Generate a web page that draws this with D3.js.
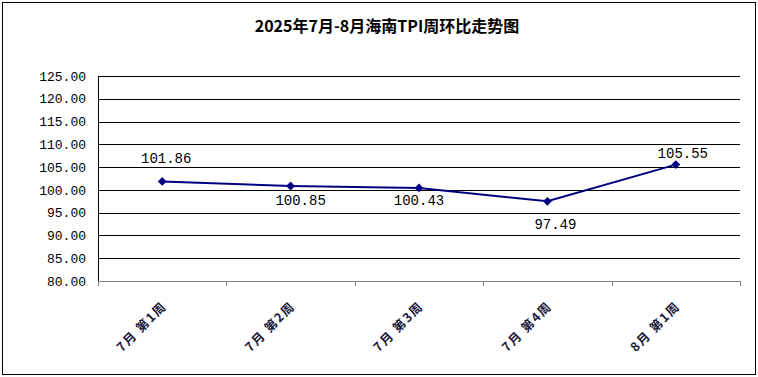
<!DOCTYPE html>
<html>
<head>
<meta charset="utf-8">
<script src="https://cdn.jsdelivr.net/npm/d3@7"></script>
<style>
  body { margin: 0; background: #fff; }
  svg { display: block; }
</style>
</head>
<body>
<div id="chart"></div>
<script>
// Chart data
const categories = ["7月 第1周", "7月 第2周", "7月 第3周", "7月 第4周", "8月 第1周"];
const values = [101.86, 100.85, 100.43, 97.49, 105.55];
const yTicks = [80, 85, 90, 95, 100, 105, 110, 115, 120, 125];
const title = "2025年7月-8月海南TPI周环比走势图";

// data label placement (offsets from each marker, in px)
const labelDx = [4, 10, 0, 8, 7];
const labelDy = [-18, 19, 17, 28, -7];

const W = 758, H = 377;
const margin = { top: 76, right: 18, bottom: 96, left: 98 };
const width = W - margin.left - margin.right;
const height = H - margin.top - margin.bottom;

const svgRoot = d3.select("#chart").append("svg")
  .attr("width", W).attr("height", H);

// outer border
svgRoot.append("rect")
  .attr("x", 2.5).attr("y", 2.5)
  .attr("width", W - 5).attr("height", H - 5)
  .attr("fill", "#fff").attr("stroke", "#000");

// title
svgRoot.append("text")
  .attr("x", 387).attr("y", 32)
  .attr("text-anchor", "middle")
  .style("font-family", "'Noto Sans CJK SC', sans-serif")
  .style("font-size", "16px")
  .style("font-weight", "bold")
  .text(title);

const svg = svgRoot.append("g")
  .attr("transform", `translate(${margin.left},${margin.top})`);

const x = d3.scaleBand().domain(categories).range([0, width]);
const y = d3.scaleLinear().domain([80, 125]).range([height, 0]);

// gridlines
svg.append("g")
  .selectAll("line")
  .data(yTicks.filter((d) => d > 80))
  .join("line")
  .attr("x1", 0).attr("x2", width)
  .attr("y1", (d) => Math.round(y(d)) + 0.5)
  .attr("y2", (d) => Math.round(y(d)) + 0.5)
  .attr("stroke", "#000");

// y axis
const yAxis = svg.append("g")
  .call(d3.axisLeft(y).tickValues(yTicks).tickSize(0).tickPadding(12).tickFormat(d3.format(".2f")));
yAxis.select(".domain").attr("stroke", "#000");
yAxis.selectAll("text")
  .style("font-family", "'Liberation Mono', monospace")
  .style("font-size", "13px")
  .attr("fill", "#000");

// x axis
const xAxis = svg.append("g")
  .attr("transform", `translate(0,${height})`)
  .call(d3.axisBottom(x).tickSize(0).tickFormat(""));
xAxis.select(".domain").attr("stroke", "#808080");
svg.append("g")
  .selectAll("line")
  .data(d3.range(categories.length + 1))
  .join("line")
  .attr("x1", (i) => Math.round(i * x.step()) + 0.5)
  .attr("x2", (i) => Math.round(i * x.step()) + 0.5)
  .attr("y1", height).attr("y2", height + 5)
  .attr("stroke", "#808080");

// rotated category labels
svg.append("g")
  .selectAll("text")
  .data(categories)
  .join("text")
  .attr("transform", (d) => `translate(${x(d) + x.bandwidth() / 2 - 1},${height + 20}) rotate(-45)`)
  .attr("text-anchor", "end")
  .attr("dy", "0.7em")
  .style("font-family", "'Noto Sans CJK SC', sans-serif")
  .style("font-size", "12.5px")
  .style("font-weight", "bold")
  .style("letter-spacing", "1.5px")
  .attr("fill", "#1a1a3a")
  .text((d) => d);

// line
const cx = (i) => x(categories[i]) + x.bandwidth() / 2;
const line = d3.line().x((d, i) => cx(i)).y((d) => y(d));
svg.append("path")
  .datum(values)
  .attr("fill", "none")
  .attr("stroke", "#000080")
  .attr("stroke-width", 2)
  .attr("d", line);

// diamond markers
svg.append("g")
  .selectAll("path")
  .data(values)
  .join("path")
  .attr("transform", (d, i) => `translate(${cx(i)},${y(d)})`)
  .attr("d", d3.symbol().type(d3.symbolDiamond2).size(50))
  .attr("fill", "#000080");

// data labels
svg.append("g")
  .selectAll("text")
  .data(values)
  .join("text")
  .attr("x", (d, i) => cx(i) + labelDx[i])
  .attr("y", (d, i) => y(d) + labelDy[i])
  .attr("text-anchor", "middle")
  .style("font-family", "'Liberation Mono', monospace")
  .style("font-size", "14px")
  .attr("fill", "#000")
  .text((d) => d.toFixed(2));
</script>
</body>
</html>
